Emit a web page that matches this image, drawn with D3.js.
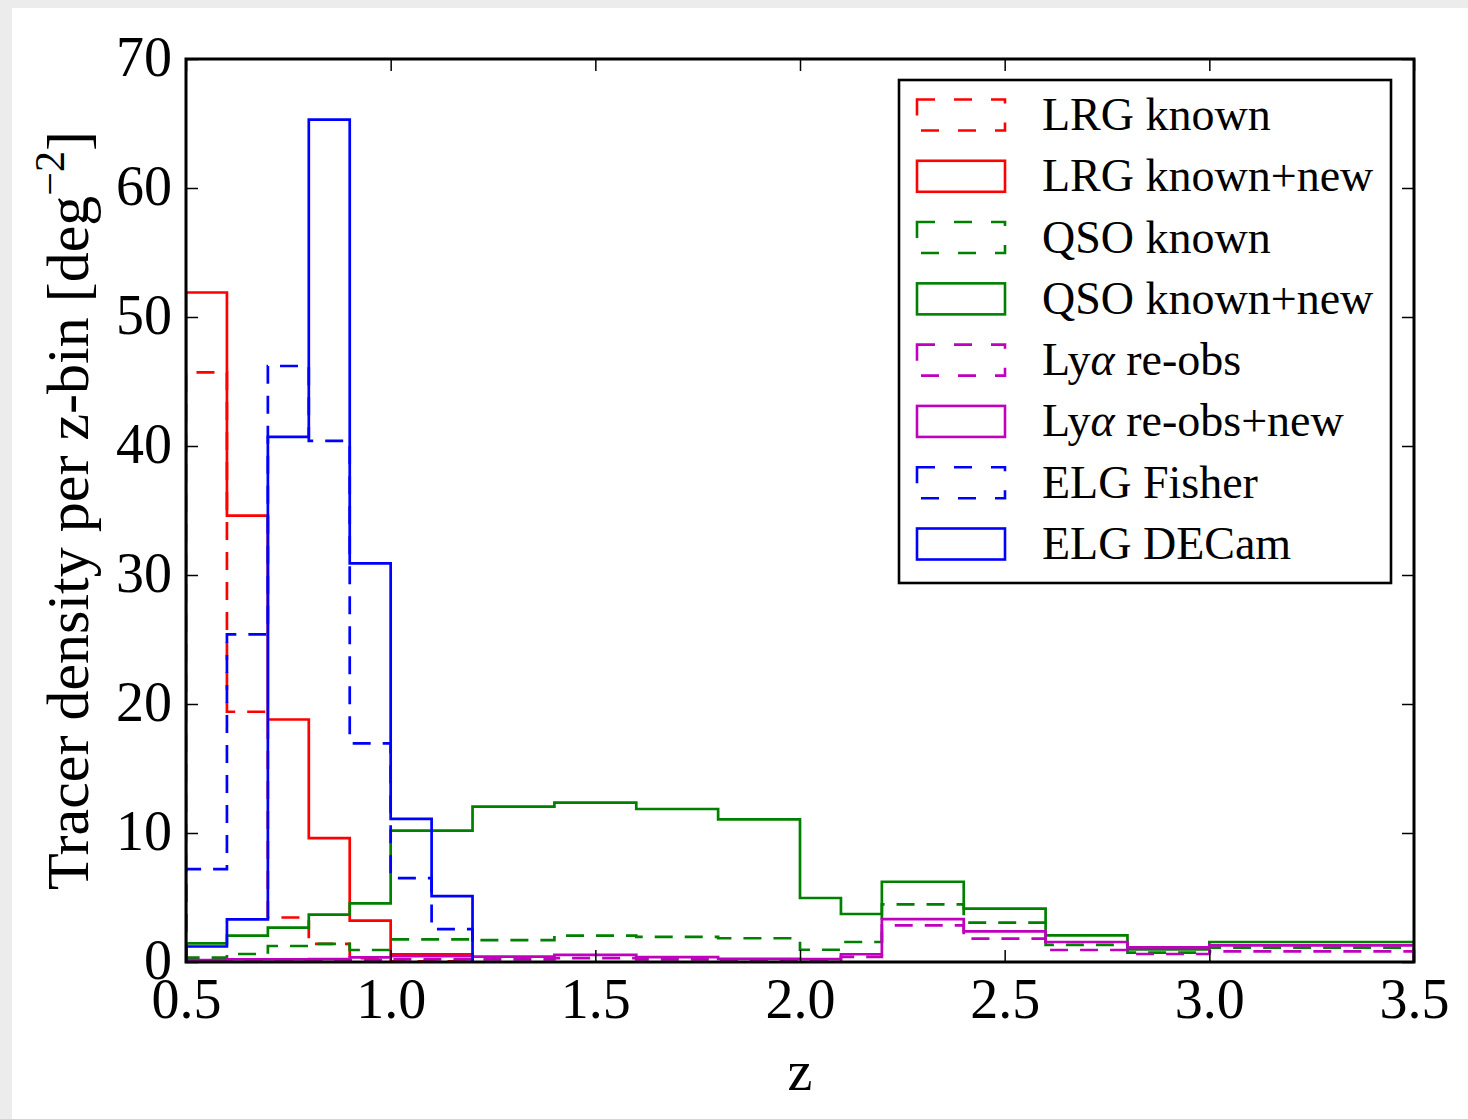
<!DOCTYPE html>
<html>
<head>
<meta charset="utf-8">
<script src="https://cdn.jsdelivr.net/npm/d3@7"></script>
<style>
  html, body { margin: 0; padding: 0; background: #ffffff; }
  svg { display: block; }
  text { font-family: "Liberation Serif", "DejaVu Serif", serif; fill: #000; }
</style>
</head>
<body>
<svg id="chart" width="1468" height="1119"></svg>
<script>
// ---------------- data ----------------
const lrgEdges = [0.5, 0.6, 0.7, 0.8, 0.9, 1.0, 1.2];
const lrgKnown = [45.7, 19.4, 3.45, 1.4, 0.3, 0.05];
const lrgKnownNew = [51.9, 34.6, 18.8, 9.6, 3.2, 0.6];

const qsoEdges = [0.5, 0.6, 0.7, 0.8, 0.9, 1.0, 1.2, 1.4, 1.6, 1.8, 2.0, 2.1, 2.2, 2.4, 2.6, 2.8, 3.0, 3.5];
const qsoKnown = [0.34, 0.62, 1.24, 1.4, 0.93, 1.76, 1.7, 2.04, 1.94, 1.84, 0.95, 1.55, 4.47, 3.05, 1.32, 0.72, 1.11];
const qsoKnownNew = [1.45, 2.04, 2.66, 3.67, 4.55, 10.18, 12.04, 12.35, 11.86, 11.06, 4.96, 3.72, 6.22, 4.13, 2.07, 0.98, 1.55];

const lyaEdges = qsoEdges;
const lyaReobs = [0.1, 0.1, 0.1, 0.12, 0.15, 0.2, 0.2, 0.3, 0.2, 0.12, 0.12, 0.4, 2.84, 1.81, 0.93, 0.62, 0.83];
const lyaReobsNew = [0.15, 0.2, 0.2, 0.22, 0.36, 0.45, 0.41, 0.56, 0.38, 0.25, 0.23, 0.6, 3.33, 2.38, 1.55, 1.13, 1.29];

const elgEdges = [0.5, 0.6, 0.7, 0.8, 0.9, 1.0, 1.1, 1.2];
const elgFisher = [7.2, 25.4, 46.2, 40.4, 16.95, 6.5, 2.55];
const elgDecam = [1.2, 3.3, 40.7, 65.3, 30.9, 11.1, 5.1];

const seriesLabels = ["LRG known", "LRG known+new", "QSO known", "QSO known+new",
                      "Lyα re-obs", "Lyα re-obs+new", "ELG Fisher", "ELG DECam"];
const seriesColors = ["#ff0000", "#ff0000", "#008000", "#008000", "#bf00bf", "#bf00bf", "#0000ff", "#0000ff"];
const seriesDashed = [true, false, true, false, true, false, true, false];
const seriesEdges = [lrgEdges, lrgEdges, qsoEdges, qsoEdges, lyaEdges, lyaEdges, elgEdges, elgEdges];
const seriesValues = [lrgKnown, lrgKnownNew, qsoKnown, qsoKnownNew, lyaReobs, lyaReobsNew, elgFisher, elgDecam];

const xTicks = [0.5, 1.0, 1.5, 2.0, 2.5, 3.0, 3.5];
const yTicks = [0, 10, 20, 30, 40, 50, 60, 70];

// ---------------- layout ----------------
const svg = d3.select("#chart");
const W = 1468, H = 1119;
const pL = 186, pR = 1414, pT = 59, pB = 962;

// page-edge background strips
svg.append("rect").attr("x", 0).attr("y", 0).attr("width", W).attr("height", H).attr("fill", "#ffffff");
svg.append("rect").attr("x", 0).attr("y", 0).attr("width", W).attr("height", 8).attr("fill", "#ececec");
svg.append("rect").attr("x", 0).attr("y", 0).attr("width", 12).attr("height", H).attr("fill", "#ececec");

const x = d3.scaleLinear().domain([0.5, 3.5]).range([pL, pR]);
const y = d3.scaleLinear().domain([0, 70]).range([pB, pT]);

svg.append("clipPath").attr("id", "clip")
  .append("rect").attr("x", pL).attr("y", pT).attr("width", pR - pL).attr("height", pB - pT);

const line = d3.line().x(d => x(d[0])).y(d => y(d[1]));

function stepPoints(edges, vals) {
  const pts = [[edges[0], 0]];
  vals.forEach((v, i) => { pts.push([edges[i], v]); pts.push([edges[i + 1], v]); });
  pts.push([edges[edges.length - 1], 0]);
  return pts;
}

const plot = svg.append("g").attr("clip-path", "url(#clip)");
seriesValues.forEach((vals, i) => {
  plot.append("path")
    .attr("d", line(stepPoints(seriesEdges[i], vals)))
    .attr("fill", "none")
    .attr("stroke", seriesColors[i])
    .attr("stroke-width", 2.7)
    .attr("stroke-linejoin", "miter")
    .attr("stroke-dasharray", seriesDashed[i] ? "18,12" : null);
});

// ---------------- axes ----------------
const tickLen = 12;
const axes = svg.append("g");
const xAxisB = d3.axisBottom(x).tickValues(xTicks).tickSize(-tickLen).tickPadding(16).tickFormat(d3.format(".1f"));
const gxb = axes.append("g").attr("transform", `translate(0,${pB})`).call(xAxisB);
const xAxisT = d3.axisTop(x).tickValues(xTicks).tickSize(-tickLen).tickFormat("");
const gxt = axes.append("g").attr("transform", `translate(0,${pT})`).call(xAxisT);
const yAxisL = d3.axisLeft(y).tickValues(yTicks).tickSize(-tickLen).tickPadding(14).tickFormat(d3.format("d"));
const gyl = axes.append("g").attr("transform", `translate(${pL},0)`).call(yAxisL);
const yAxisR = d3.axisRight(y).tickValues(yTicks).tickSize(-tickLen).tickFormat("");
const gyr = axes.append("g").attr("transform", `translate(${pR},0)`).call(yAxisR);

[gxb, gxt, gyl, gyr].forEach(g => {
  g.select(".domain").remove();
  g.selectAll(".tick line").attr("stroke", "#000").attr("stroke-width", 1.5);
});
gxb.selectAll(".tick text").attr("font-size", 56).attr("dy", "0.71em")
   .style("font-family", "'Liberation Serif', serif");
gyl.selectAll(".tick text").attr("font-size", 56).attr("dy", "0.3em")
   .style("font-family", "'Liberation Serif', serif");

// frame
svg.append("rect").attr("x", pL).attr("y", pT).attr("width", pR - pL).attr("height", pB - pT)
  .attr("fill", "none").attr("stroke", "#000").attr("stroke-width", 3);

// axis labels
svg.append("text").attr("x", (pL + pR) / 2).attr("y", 1090)
  .attr("text-anchor", "middle").attr("font-size", 56).text("z");

const yl = svg.append("text")
  .attr("transform", `translate(88,${(pT + pB) / 2}) rotate(-90)`)
  .attr("text-anchor", "middle").attr("font-size", 60);
yl.append("tspan").text("Tracer density per z-bin [deg");
yl.append("tspan").attr("font-size", 42).attr("dy", -24).text("−2");
yl.append("tspan").attr("dy", 24).text("]");

// ---------------- legend ----------------
const lg = svg.append("g");
const lgX = 899, lgY = 80, lgW = 492, lgH = 503;
lg.append("rect").attr("x", lgX).attr("y", lgY).attr("width", lgW).attr("height", lgH)
  .attr("fill", "#fff").attr("stroke", "#000").attr("stroke-width", 2.6);
const rowY = d3.scaleLinear().domain([0, 7]).range([115, 544]);
seriesLabels.forEach((lab, i) => {
  const cy = rowY(i);
  lg.append("rect").attr("x", 917).attr("y", cy - 15.5).attr("width", 88).attr("height", 31)
    .attr("fill", "none").attr("stroke", seriesColors[i]).attr("stroke-width", 2.6)
    .attr("stroke-dasharray", seriesDashed[i] ? "18,19" : null);
  const t = lg.append("text").attr("x", 1042).attr("y", cy + 15).attr("font-size", 46);
  if (lab.startsWith("Lyα")) {
    t.append("tspan").text("Ly");
    t.append("tspan").attr("font-style", "italic").text("α");
    t.append("tspan").text(lab.slice(3));
  } else {
    t.text(lab);
  }
});
</script>
</body>
</html>
